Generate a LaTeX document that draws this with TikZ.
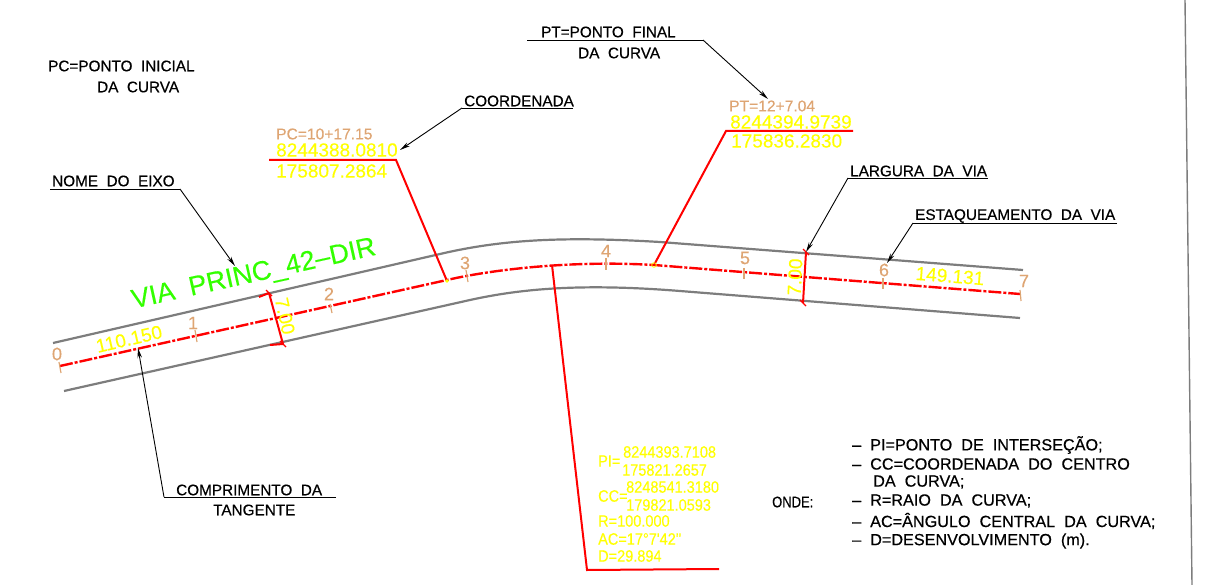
\documentclass[tikz,border=0pt]{standalone}
\usepackage{fontspec}
\setmainfont{Liberation Sans}
\newfontfamily\cadbold[FakeBold=0.5]{Liberation Sans}
\newfontfamily\cadsemi[FakeBold=0.25]{Liberation Sans}
\usetikzlibrary{arrows.meta}
\definecolor{cadyellow}{RGB}{255,255,0}
\definecolor{cadtan}{RGB}{222,165,115}
\definecolor{cadgreen}{RGB}{51,255,0}
\definecolor{cadgrey}{RGB}{125,125,125}
\definecolor{cadred}{RGB}{255,0,0}
\tikzset{
  blk/.style={inner sep=0pt,font=\cadbold\fontsize{15.3}{17}\selectfont,text=black},
  leg/.style={inner sep=0pt,font=\cadbold\fontsize{16.2}{18}\selectfont,text=black},
  yel/.style={inner sep=0pt,font=\cadsemi\fontsize{19}{21}\selectfont,text=cadyellow},
  ylw/.style={inner sep=0pt,font=\cadsemi\fontsize{16.5}{18}\selectfont,text=cadyellow,xscale=.88},
  tan/.style={inner sep=0pt,font=\cadsemi\fontsize{15.6}{17}\selectfont,text=cadtan},
  sta/.style={inner sep=0pt,font=\cadsemi\fontsize{18}{20}\selectfont,text=cadtan},
  edgeline/.style={draw=cadgrey,line width=2.2pt},
  axisline/.style={draw=cadred,line width=2.4pt,dash pattern=on 13pt off 2pt on 3pt off 2pt},
  redline/.style={draw=cadred,line width=2pt},
  leader/.style={draw=black,line width=.9pt},
  leadarrow/.style={leader,-{Stealth[length=10pt,width=4.5pt]}},
  tick/.style={draw=cadtan,line width=1.2pt},
}
\begin{document}
\begin{tikzpicture}[x=1pt,y=-1pt]
\useasboundingbox (0,0) rectangle (1210,585);
% coordinates
\coordinate (ue0) at (53,343); \coordinate (ue1) at (440,254); \coordinate (ue2) at (660,242); \coordinate (ue3) at (1023,270);
\coordinate (le0) at (64,391); \coordinate (le1) at (470,300); \coordinate (le2) at (680,291); \coordinate (le3) at (1020,318);
\coordinate (ax0) at (60,366); \coordinate (ax1) at (447,280); \coordinate (ax2) at (654,265); \coordinate (ax3) at (1020,294);
% road
\draw[edgeline] (ue0) -- (ue1) .. controls (500,240) and (560,236) .. (ue2) -- (ue3);
\draw[edgeline] (le0) -- (le1) .. controls (520,289) and (580,283) .. (le2) -- (le3);
\draw[axisline] (ax0) -- (ax1) .. controls (490,270) and (570,260) .. (ax2) -- (ax3);
\draw[draw=cadgrey,line width=1.4pt] (1185,0) -- (1192,585);
% stations
\foreach \n/\ax/\ay/\bx/\by/\lx/\ly in {0/59/362/61/373/57/354,1/195/330/197/342/193/323,2/330/304/332/313/329/294,3/466/270/468/282/465/263,4/606/258/606/270/606/251,5/744/268/744/279/745/258,6/883/278/883/289/884/270,7/1020/290/1021/301/1024/281}{
  \coordinate (ta\n) at (\ax,\ay); \coordinate (tb\n) at (\bx,\by);
  \draw[tick] (ta\n) -- (tb\n);
  \node[sta] (st\n) at (\lx,\ly) {\n};
}
% width dimensions
\coordinate (wa1) at (269,293); \coordinate (wa2) at (283,344);
\coordinate (wa3) at (259,297); \coordinate (wa4) at (270,345);
\draw[redline] (wa1) -- (wa2);
\draw[redline] (wa3) -- (wa1); \draw[redline] (wa4) -- (wa2);
\draw[redline,line width=1.2pt] ([shift={(-3,-3)}]wa1) -- ([shift={(3,3)}]wa1);
\draw[redline,line width=1.2pt] ([shift={(-3,-3)}]wa2) -- ([shift={(3,3)}]wa2);
\coordinate (wb1) at (806,252); \coordinate (wb2) at (803,303);
\draw[redline] (wb1) -- (wb2);
\draw[redline,line width=1.2pt] ([shift={(-3,-3)}]wb1) -- ([shift={(3,3)}]wb1);
\draw[redline,line width=1.2pt] ([shift={(-3,-3)}]wb2) -- ([shift={(3,3)}]wb2);
\node[yel,rotate=-78] (wt1) at (285,316) {7.00};
\node[yel,rotate=87] (wt2) at (795,277) {7.00};
% red leaders
\coordinate (pc0) at (269,160); \coordinate (pc1) at (396,160); \coordinate (pc2) at (447,281);
\draw[redline] (pc0) -- (pc1) -- (pc2);
\coordinate (pt0) at (853,131); \coordinate (pt1) at (726,131); \coordinate (pt2) at (654,265);
\draw[redline] (pt0) -- (pt1) -- (pt2);
\coordinate (pi0) at (552,265); \coordinate (pi1) at (587,570); \coordinate (pi2) at (719,569);
\draw[redline] (pi0) -- (pi1) -- (pi2);
\fill[cadyellow] (447,281) circle (1.8pt);
\draw[cadyellow,line width=.8pt] (654,265) circle (2.3pt);
% black leaders
\coordinate (ne0) at (50,189); \coordinate (ne1) at (180,189); \coordinate (ne2) at (235,266);
\draw[leader] (ne0) -- (ne1); \draw[leadarrow] (ne1) -- (ne2);
\coordinate (ct0) at (336,497); \coordinate (ct1) at (164,497); \coordinate (ct2) at (138,348);
\draw[leader] (ct0) -- (ct1); \draw[leadarrow] (ct1) -- (ct2);
\coordinate (co0) at (573,108); \coordinate (co1) at (462,108); \coordinate (co2) at (400,150);
\draw[leader] (co0) -- (co1); \draw[leadarrow] (co1) -- (co2);
\coordinate (pf0) at (527,40); \coordinate (pf1) at (703,40); \coordinate (pf2) at (768,99);
\draw[leader] (pf0) -- (pf1); \draw[leadarrow] (pf1) -- (pf2);
\coordinate (lv0) at (988,178); \coordinate (lv1) at (848,178); \coordinate (lv2) at (806,252);
\draw[leader] (lv0) -- (lv1); \draw[leadarrow] (lv1) -- (lv2);
\coordinate (ev0) at (1117,223); \coordinate (ev1) at (913,223); \coordinate (ev2) at (887,263);
\draw[leader] (ev0) -- (ev1); \draw[leadarrow] (ev1) -- (ev2);
% green and dimension text
\node[inner sep=0pt,font=\cadsemi\fontsize{27}{30}\selectfont,text=cadgreen,rotate=12.5] (via) at (254,275) {VIA\ \ PRINC\_42–DIR};
\node[yel,rotate=13] (len1) at (129,339) {110.150};
\node[yel,rotate=-4.5] (len2) at (950,276) {149.131};
% station data
\node[tan,anchor=west] (pcst) at (276,134) {PC=10+17.15};
\node[yel,anchor=west] (pcn) at (276,150) {8244388.0810};
\node[yel,anchor=west] (pce) at (276,171) {175807.2864};
\node[tan,anchor=west] (ptst) at (729,106) {PT=12+7.04};
\node[yel,anchor=west] (ptn) at (730,122) {8244394.9739};
\node[yel,anchor=west] (pte) at (731,141) {175836.2830};
% PI block
\node[ylw,anchor=west] (pi) at (598,461) {PI=};
\node[ylw,anchor=west] (pin) at (623,452) {8244393.7108};
\node[ylw,anchor=west] (pie) at (622,470) {175821.2657};
\node[ylw,anchor=west] (cc) at (598,496) {CC=};
\node[ylw,anchor=west] (ccn) at (626,487) {8248541.3180};
\node[ylw,anchor=west] (cce) at (626,505) {179821.0593};
\node[ylw,anchor=west] (r) at (598,521) {R=100.000};
\node[ylw,anchor=west] (ac) at (598,539) {AC=17°7'42''};
\node[ylw,anchor=west] (d) at (598,556) {D=29.894};
% black text
\node[blk,anchor=west] (t1) at (48,66) {PC=PONTO\ \ INICIAL};
\node[blk,anchor=west] (t2) at (97,87) {DA\ \ CURVA};
\node[blk,anchor=west] (t3) at (52,181) {NOME\ \ DO\ \ EIXO};
\node[blk,anchor=west] (t4) at (464,101) {COORDENADA};
\node[blk,anchor=west] (t5) at (541,32) {PT=PONTO\ \ FINAL};
\node[blk,anchor=west] (t6) at (578,53) {DA\ \ CURVA};
\node[blk,anchor=west] (t7) at (850,171) {LARGURA\ \ DA\ \ VIA};
\node[blk,anchor=west] (t8) at (915,216) {ESTAQUEAMENTO\ \ DA\ \ VIA};
\node[blk,anchor=west] (t9) at (176,490) {COMPRIMENTO\ \ DA};
\node[blk,anchor=west] (t10) at (213,510) {TANGENTE};
\node[blk,anchor=west,xscale=.85] (onde) at (772,502) {ONDE:};
\node[leg,anchor=west] (l1) at (852,445) {–\ \ PI=PONTO\ \ DE\ \ INTERSEÇÃO;};
\node[leg,anchor=west] (l2) at (852,464) {–\ \ CC=COORDENADA\ \ DO\ \ CENTRO};
\node[leg,anchor=west] (l3) at (873,482) {DA\ \ CURVA;};
\node[leg,anchor=west] (l4) at (852,501) {–\ \ R=RAIO\ \ DA\ \ CURVA;};
\node[leg,anchor=west] (l5) at (852,521) {–\ \ AC=ÂNGULO\ \ CENTRAL\ \ DA\ \ CURVA;};
\node[leg,anchor=west] (l6) at (852,541) {–\ \ D=DESENVOLVIMENTO\ \ (m).};
\end{tikzpicture}
\end{document}
